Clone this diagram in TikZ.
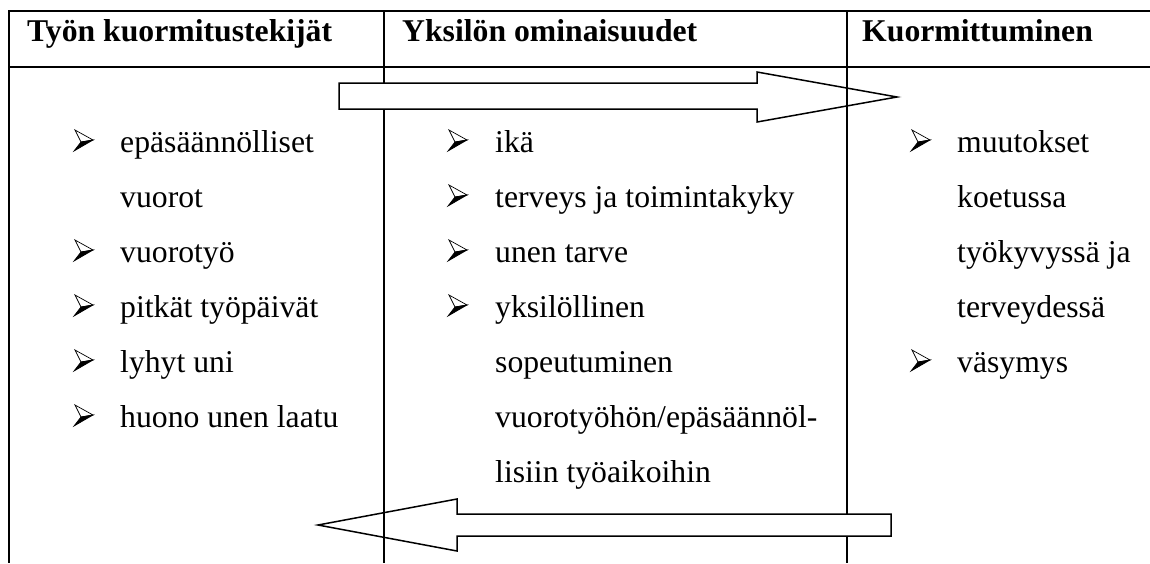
\documentclass[tikz,border=0pt]{standalone}
\usepackage{fontspec}
\setmainfont{Liberation Serif}

\begin{document}
\begin{tikzpicture}[x=1pt,y=-1pt,
  otsikko/.style={anchor=base west,inner sep=0pt,font=\bfseries\fontsize{31.7}{38}\selectfont},
  kohta/.style={anchor=base west,inner sep=0pt,font=\fontsize{31.7}{38}\selectfont},
  viiva/.style={line width=2pt},
  nuoli/.style={line width=1.5pt,line join=miter},
  merkki/.pic={
    \filldraw[fill=white,line width=0.7pt] (0,-21)--(18,-11)--(6,-9)--cycle;
    \filldraw[fill=black,line width=0.7pt] (6,-9)--(18,-11)--(-1,0)--cycle;
  }]
\useasboundingbox (0,0) rectangle (1150,563);

% taulukon viivat
\draw[viiva] (9,11)--(1150,11);
\draw[viiva] (9,67)--(1150,67);
\draw[viiva] (9,10)--(9,563);
\draw[viiva] (384,11)--(384,563);
\draw[viiva] (847,11)--(847,563);

% otsikot
\node[otsikko] (h1) at (27,41) {Työn kuormitustekijät};
\node[otsikko] (h2) at (402,41) {Yksilön ominaisuudet};
\node[otsikko] (h3) at (862,41) {Kuormittuminen};

% nuoli oikealle
\fill[white] (339,83) rectangle (757,109);
\draw[nuoli] (339,83)--(757,83)--(757,72)--(897,97)--(757,122)--(757,109)--(339,109)--cycle;

% nuoli vasemmalle
\fill[white] (457,514) rectangle (891,536);
\draw[nuoli] (318,525)--(457,499)--(457,514)--(891,514)--(891,536)--(457,536)--(457,551)--cycle;

% tyon kuormitustekijat
\pic at (75,151) {merkki};
\node[kohta] (a1) at (120,152) {epäsäännölliset};
\node[kohta] (a2) at (120,207) {vuorot};
\pic at (75,261) {merkki};
\node[kohta] (a3) at (120,262) {vuorotyö};
\pic at (75,316) {merkki};
\node[kohta] (a4) at (120,317) {pitkät työpäivät};
\pic at (75,371) {merkki};
\node[kohta] (a5) at (120,372) {lyhyt uni};
\pic at (75,426) {merkki};
\node[kohta] (a6) at (120,427) {huono unen laatu};

% yksilon ominaisuudet
\pic at (449,151) {merkki};
\node[kohta] (b1) at (495,152) {ikä};
\pic at (449,206) {merkki};
\node[kohta] (b2) at (495,207) {terveys ja toimintakyky};
\pic at (449,261) {merkki};
\node[kohta] (b3) at (495,262) {unen tarve};
\pic at (449,316) {merkki};
\node[kohta] (b4) at (495,317) {yksilöllinen};
\node[kohta] (b5) at (495,372) {sopeutuminen};
\node[kohta] (b6) at (495,427) {vuorotyöhön/epäsäännöl-};
\node[kohta] (b7) at (495,482) {lisiin työaikoihin};

% kuormittuminen
\pic at (912,151) {merkki};
\node[kohta] (c1) at (957,152) {muutokset};
\node[kohta] (c2) at (957,207) {koetussa};
\node[kohta] (c3) at (957,262) {työkyvyssä ja};
\node[kohta] (c4) at (957,317) {terveydessä};
\pic at (912,371) {merkki};
\node[kohta] (c5) at (957,372) {väsymys};

\end{tikzpicture}
\end{document}
